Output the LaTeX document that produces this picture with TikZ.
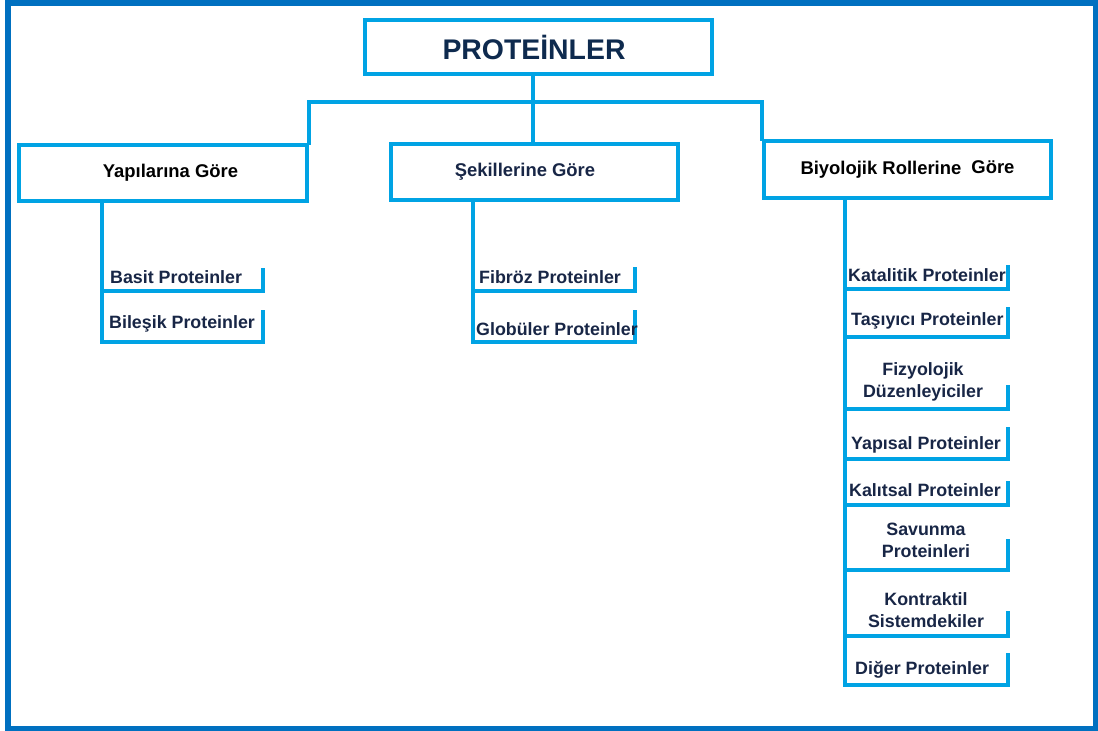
\documentclass[tikz,border=0pt]{standalone}
\usepackage{fontspec}
\setmainfont{Liberation Sans}
\definecolor{lb}{RGB}{0,163,228}
\definecolor{db}{RGB}{0,112,192}
\definecolor{navy}{RGB}{24,38,70}
\definecolor{navytop}{RGB}{14,42,78}
\begin{document}
\begin{tikzpicture}[x=1bp,y=-1bp,
  line/.style={draw=lb,line width=4bp,line cap=rect},
  catbox/.style={draw=lb,line width=4bp,inner sep=0pt,
    font=\fontsize{18.5}{22}\selectfont\bfseries},
  leaf/.style={inner sep=0pt,text=navy,
    font=\fontsize{17.9}{22}\selectfont\bfseries},
  leafw/.style={leaf,anchor=base west},
  leafc/.style={leaf,anchor=base,align=center}]
\useasboundingbox (0,0) rectangle (1098,731);
\draw[db,line width=6bp] (8,3) rectangle (1095.5,728.5);
% top
\node[catbox,minimum width=347bp,minimum height=54bp,text=navytop,
  font=\fontsize{28.5}{34}\selectfont\bfseries] (top) at (538.5,47) {PROTEİNLER\hspace*{9bp}};
% categories
\node[catbox,minimum width=288bp,minimum height=56bp,text=black] (yap) at (163,173) {\hspace*{15bp}Yapılarına Göre};
\node[catbox,minimum width=287bp,minimum height=56bp,text=navy] (sek) at (534.5,172) {Şekillerine Göre\hspace*{19bp}};
\node[catbox,minimum width=287bp,minimum height=57bp,text=black] (bio) at (907.5,169.5) {Biyolojik Rollerine\hspace{0.55em}\raisebox{1.5bp}{Göre}};
% connectors
\coordinate (hub) at (533,102);
\draw[line] (top.south -| hub) -- (sek.north -| hub);
\draw[line] (yap.north east) -- (yap.north east |- hub) -- (bio.north west |- hub) -- (bio.north west);
\coordinate (L) at (102,0);
\coordinate (M) at (473,0);
\coordinate (R) at (845,0);
% left branch
\draw[line] (yap.south -| L) -- (L |- 0,342);
\foreach \b/\t in {291/270,342/312} \draw[line] (L |- 0,\b) -- (263,\b) -- (263,\t);
\node[leafw] (bas) at (110,283) {Basit Proteinler};
\node[leafw] (bil) at (109,328) {Bileşik Proteinler};
% middle branch
\draw[line] (sek.south -| M) -- (M |- 0,342);
\foreach \b/\t in {291/269,342/312} \draw[line] (M |- 0,\b) -- (635,\b) -- (635,\t);
\node[leafw] (fib) at (479,283) {Fibröz Proteinler};
\node[leafw] (glo) at (476,335) {Globüler Proteinler};
% right branch
\draw[line] (bio.south -| R) -- (R |- 0,685);
\foreach \b/\t in {289/267,337/309,409/387,459/429,505/483,570/541,636/613,685/655}
  \draw[line] (R |- 0,\b) -- (1008,\b) -- (1008,\t);
\node[leafw] (kat) at (848,281) {Katalitik Proteinler};
\node[leafw] (tas) at (851,325) {Taşıyıcı Proteinler};
\node[leafc] (fiz) at (923,397) {Fizyolojik\\Düzenleyiciler};
\node[leafw] (yps) at (851,449) {Yapısal Proteinler};
\node[leafw] (kal) at (849,496) {Kalıtsal Proteinler};
\node[leafc] (sav) at (926,557) {Savunma\\Proteinleri};
\node[leafc] (kon) at (926,627) {Kontraktil\\Sistemdekiler};
\node[leafw] (dig) at (855,674) {Diğer Proteinler};
\end{tikzpicture}
\end{document}
